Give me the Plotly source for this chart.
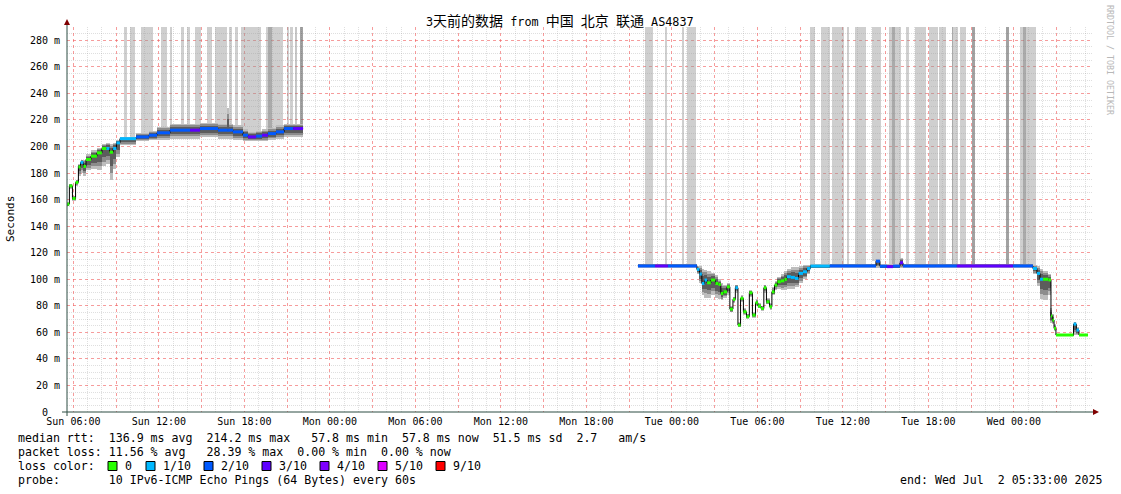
import plotly.graph_objects as go
import pandas as pd

YEAR = "2025-"
START = "06-29 05:33"
END = "07-02 05:33"

# ---------------- data ----------------
# segment 1 : step series (value holds from time[i] to time[i+1])
seg1_time = ["06-29 05:33", "06-29 05:43", "06-29 05:56", "06-29 06:09", "06-29 06:21",
             "06-29 06:30", "06-29 06:42", "06-29 06:53", "06-29 07:14", "06-29 07:39",
             "06-29 08:00", "06-29 08:19", "06-29 08:32", "06-29 08:47", "06-29 09:01",
             "06-29 09:16", "06-29 10:24", "06-29 11:18", "06-29 11:52", "06-29 12:47",
             "06-29 14:11", "06-29 14:53", "06-29 16:09", "06-29 16:47", "06-29 16:55",
             "06-29 17:12", "06-29 17:54", "06-29 18:15", "06-29 18:49", "06-29 19:14",
             "06-29 19:39", "06-29 20:13", "06-29 20:47", "06-29 21:25"]
seg1_end = "06-29 22:07"
seg1_median = [156.6, 170.3, 160.8, 172.9, 184.6, 188.0, 185.0, 190.2, 192.7, 195.2,
               198.5, 198.5, 195.7, 198.5, 202.7, 205.9, 207.2, 208.5, 210.3, 212.3,
               212.3, 213.5, 212.3, 212.3, 212.3, 211.0, 208.5, 207.2, 207.8, 208.5,
               209.7, 211.0, 213.5, 213.5]
seg1_loss = [0, 0, 0, 0, 0, 1, 0, 0, 0, 0,
             0, 1, 0, 1, 1, 1, 2, 2, 2, 2,
             3, 2, 2, 2, 2, 2, 2, 3, 2, 3,
             2, 2, 2, 3]
seg1_lo = [155, 168, 159, 170, 178, 180, 178, 182, 183, 182,
           185, 187, 175, 183, 192, 201, 204, 205, 205, 206,
           206, 207, 206, 206, 206, 205, 204, 204, 204, 204,
           205, 206, 207, 207]
seg1_hi = [158, 172, 163, 175, 187, 190, 190, 194, 197, 199,
           202, 203, 202, 203, 205, 207, 210, 212, 215, 217,
           217, 218, 217, 229, 217, 216, 213, 211, 212, 213,
           214, 216, 217, 217]

# segment 2
seg2_time = ["06-30 21:37", "06-30 22:49", "06-30 23:43", "07-01 01:45", "07-01 01:56",
             "07-01 02:06", "07-01 02:17", "07-01 02:28", "07-01 02:44", "07-01 03:03",
             "07-01 03:16", "07-01 03:26", "07-01 03:37", "07-01 03:52", "07-01 04:04",
             "07-01 04:17", "07-01 04:27", "07-01 04:38", "07-01 04:49", "07-01 05:01",
             "07-01 05:14", "07-01 05:26", "07-01 05:39", "07-01 05:52", "07-01 06:02",
             "07-01 06:15", "07-01 06:27", "07-01 06:38", "07-01 06:51", "07-01 07:01",
             "07-01 07:12", "07-01 07:24", "07-01 07:39", "07-01 07:54", "07-01 08:04",
             "07-01 08:21", "07-01 08:38", "07-01 08:53", "07-01 09:12", "07-01 09:29",
             "07-01 09:43", "07-01 11:05", "07-01 13:12", "07-01 14:19", "07-01 14:36",
             "07-01 15:05", "07-01 15:31", "07-01 16:00", "07-01 16:13", "07-01 18:28",
             "07-01 20:00", "07-01 23:56", "07-02 01:20", "07-02 01:37", "07-02 01:50",
             "07-02 02:02", "07-02 02:25", "07-02 02:36", "07-02 02:42", "07-02 02:49",
             "07-02 02:57", "07-02 04:11", "07-02 04:23", "07-02 04:34"]
seg2_end = "07-02 05:12"
seg2_median = [110.0, 110.0, 110.0, 107.4, 103.9, 96.8, 99.4, 97.3, 99.4, 96.8,
               96.1, 89.3, 90.5, 94.3, 77.5, 84.8, 93.6, 65.5, 85.6, 75.5,
               71.8, 89.8, 73.0, 82.3, 79.8, 78.0, 93.6, 83.0, 79.3, 90.5,
               95.6, 98.1, 98.8, 99.9, 101.9, 101.4, 100.6, 104.4, 105.6, 108.1,
               109.9, 110.0, 110.0, 113.6, 109.8, 109.5, 109.9, 112.4, 110.0, 110.0,
               110.0, 110.0, 108.1, 104.4, 100.0, 100.0, 99.5, 72.3, 69.2, 63.0,
               58.0, 66.2, 61.7, 58.0]
seg2_loss = [2, 3, 2, 1, 1, 1, 1, 0, 0, 0,
             0, 0, 0, 0, 0, 0, 1, 0, 0, 0,
             0, 0, 0, 0, 0, 0, 0, 0, 0, 0,
             0, 0, 0, 0, 1, 1, 1, 1, 1, 1,
             1, 2, 2, 2, 2, 3, 2, 3, 2, 2,
             3, 2, 1, 1, 1, 0, 0, 0, 0, 0,
             0, 1, 1, 0]
seg2_lo = [108.5, 108.5, 108.5, 104, 97, 88, 86, 86, 88, 86,
           85, 84, 86, 88, 75, 82, 90, 64, 83, 73,
           70, 87, 71, 80, 78, 76, 90, 81, 77, 88,
           92, 93, 92, 92, 93, 93, 94, 97, 100, 104,
           108.5, 108.5, 108.5, 108.5, 108.5, 108.5, 108.5, 108.5, 108.5, 108.5,
           108.5, 108.5, 104, 95, 85, 84, 88, 67, 66, 61,
           57, 58, 58, 57]
seg2_hi = [111.5, 111.5, 111.5, 110, 110, 108, 107, 106, 105, 103,
           100, 97, 96, 97, 80, 87, 96, 68, 88, 78,
           74, 92, 75, 85, 82, 80, 96, 86, 82, 94,
           99, 102, 104, 106, 108, 109, 109, 110, 111, 111,
           111.5, 111.5, 111.5, 115, 111.5, 111.5, 111.5, 116, 111.5, 111.5,
           111.5, 111.5, 111, 110, 108, 106, 104, 78, 74, 66,
           59, 68, 64, 59]

# tall grey bars (pings beyond the visible range), shade 0 light .. 2 dark
loss_bar_start = ["06-29 09:33", "06-29 09:58", "06-29 10:45", "06-29 12:09", "06-29 12:47",
                  "06-29 13:33", "06-29 13:57", "06-29 14:32", "06-29 15:23", "06-29 15:56",
                  "06-29 16:54", "06-29 17:20", "06-29 17:46", "06-29 19:31", "06-29 19:39",
                  "06-29 20:58", "06-29 21:12", "06-29 21:33", "06-29 21:54",
                  "06-30 22:06", "06-30 23:31", "07-01 00:43", "07-01 01:02", "07-01 09:41",
                  "07-01 10:27", "07-01 11:13", "07-01 12:16", "07-01 12:51", "07-01 14:02",
                  "07-01 15:14", "07-01 15:26", "07-01 16:25", "07-01 17:03", "07-01 18:02",
                  "07-01 18:46", "07-01 19:39", "07-01 19:39", "07-01 20:13", "07-01 21:03",
                  "07-01 23:26", "07-02 00:25", "07-02 00:38"]
loss_bar_end = ["06-29 09:46", "06-29 10:19", "06-29 11:35", "06-29 12:34", "06-29 12:54",
                "06-29 13:46", "06-29 14:11", "06-29 14:56", "06-29 15:42", "06-29 16:45",
                "06-29 17:06", "06-29 17:33", "06-29 19:10", "06-29 20:42", "06-29 19:55",
                "06-29 21:09", "06-29 21:26", "06-29 21:43", "06-29 22:05",
                "06-30 22:41", "06-30 23:38", "07-01 00:51", "07-01 01:40", "07-01 10:02",
                "07-01 11:05", "07-01 12:04", "07-01 12:27", "07-01 13:37", "07-01 14:39",
                "07-01 16:03", "07-01 15:39", "07-01 16:38", "07-01 17:50", "07-01 18:39",
                "07-01 19:14", "07-01 20:06", "07-01 19:45", "07-01 20:38", "07-01 21:16",
                "07-01 23:39", "07-02 01:35", "07-02 00:50"]
loss_bar_shade = [0, 0, 0, 0, 0, 0, 0, 0, 0, 0,
                  0, 0, 0, 0, 1, 0, 0, 1, 2,
                  0, 0, 0, 0, 0, 0, 0, 0, 0, 0,
                  0, 1, 0, 0, 0, 0, 0, 1, 0, 2,
                  2, 0, 1]

x_tick_labels = ["Sun 06:00", "", "Sun 12:00", "", "Sun 18:00", "", "Mon 00:00", "",
                 "Mon 06:00", "", "Mon 12:00", "", "Mon 18:00", "", "Tue 00:00", "",
                 "Tue 06:00", "", "Tue 12:00", "", "Tue 18:00", "", "Wed 00:00", ""]
y_tick_vals = [0, 20, 40, 60, 80, 100, 120, 140, 160, 180, 200, 220, 240, 260, 280]
y_tick_labels = ["0\u00a0\u00a0", "20 m", "40 m", "60 m", "80 m", "100 m", "120 m", "140 m",
                 "160 m", "180 m", "200 m", "220 m", "240 m", "260 m", "280 m"]

loss_colors = ["#26ff00", "#00b8ff", "#0059ff", "#5e00ff", "#7e00ff", "#dd00ff", "#ff0000"]
loss_labels = ["0", "1/10", "2/10", "3/10", "4/10", "5/10", "9/10"]

title_parts = [("3", False), ("天前的数据", True), (" from ", False), ("中国", True), (" ", False),
               ("北京", True), (" ", False), ("联通", True), (" AS4837", False)]
stat_lines = [
    "median rtt:  136.9 ms avg  214.2 ms max   57.8 ms min  57.8 ms now  51.5 ms sd  2.7   am/s",
    "packet loss: 11.56 % avg   28.39 % max  0.00 % min  0.00 % now",
    "loss color:",
    "probe:       10 IPv6-ICMP Echo Pings (64 Bytes) every 60s",
]
end_text = "end: Wed Jul  2 05:33:00 2025"

# ---------------- helpers ----------------
MONO = "DejaVu Sans Mono, Noto Sans CJK SC, monospace"
PL, PR, PT, PB = 67, 1093, 27, 412
W, H = 1121, 494


def T(s):
    return pd.Timestamp(YEAR + s)


def iso(t):
    return t.strftime("%Y-%m-%d %H:%M:%S")


def px_x(x):
    return (x - PL) / (PR - PL)


def px_y(y):
    return (PB - y) / (PB - PT)


def nb(s):
    return s.replace(" ", "\u00a0")


segments = []
for times, end, med, loss, lo, hi in [
    (seg1_time, seg1_end, seg1_median, seg1_loss, seg1_lo, seg1_hi),
    (seg2_time, seg2_end, seg2_median, seg2_loss, seg2_lo, seg2_hi),
]:
    t = [T(s) for s in times] + [T(end)]
    widths = [(b - a).total_seconds() * 1000 for a, b in zip(t[:-1], t[1:])]
    segments.append(dict(t=t, starts=[iso(a) for a in t[:-1]], w=widths,
                         med=med, loss=loss, lo=lo, hi=hi))


def median_at(tm):
    for s in segments:
        for i in range(len(s["med"])):
            if s["t"][i] <= tm < s["t"][i + 1]:
                return s["med"][i]
    return None


fig = go.Figure()

# tall grey bars
shade_colors = ["rgba(150,150,150,0.46)", "rgba(120,120,120,0.42)", "rgba(100,100,100,0.6)"]
for shade in range(3):
    xs, ws, bs, hs = [], [], [], []
    for a, b, sh in zip(loss_bar_start, loss_bar_end, loss_bar_shade):
        if sh != shade:
            continue
        ta, tb = T(a), T(b)
        base = median_at(ta + (tb - ta) / 2)
        xs.append(iso(ta))
        ws.append((tb - ta).total_seconds() * 1000)
        bs.append(base)
        hs.append(295 - base)
    fig.add_trace(go.Bar(x=xs, y=hs, base=bs, width=ws, offset=0,
                         marker=dict(color=shade_colors[shade], line=dict(width=0)),
                         hoverinfo="skip", showlegend=False))

# smoke
for frac, col in [(1.0, "#bdbdbd"), (0.75, "#8c8c8c"), (0.5, "#5c5c5c")]:
    for s in segments:
        los = [m - frac * (m - l) for m, l in zip(s["med"], s["lo"])]
        his = [m + frac * (h - m) for m, h in zip(s["med"], s["hi"])]
        fig.add_trace(go.Bar(x=s["starts"], y=[h - l for h, l in zip(his, los)], base=los,
                             width=s["w"], offset=0,
                             marker=dict(color=col, line=dict(width=0)),
                             hoverinfo="skip", showlegend=False))

# black median line
for s in segments:
    fig.add_trace(go.Scatter(x=[iso(a) for a in s["t"]], y=s["med"] + [s["med"][-1]],
                             mode="lines", line=dict(color="#000000", width=1, shape="hv"),
                             hoverinfo="skip", showlegend=False))

# loss coloured median blocks (thick horizontal strokes)
for ci, col in enumerate(loss_colors):
    xs, ys = [], []
    for s in segments:
        for i, c in enumerate(s["loss"]):
            if c != ci:
                continue
            xs += [iso(s["t"][i]), iso(s["t"][i + 1]), None]
            ys += [s["med"][i], s["med"][i], None]
    if xs:
        fig.add_trace(go.Scatter(x=xs, y=ys, mode="lines", line=dict(color=col, width=3),
                                 hoverinfo="skip", showlegend=False))

# grid positions: major every 3 h / 20 ms, minor every 1 h / 5 ms (not on majors)
x_major = pd.date_range(T("06-29 06:00"), T("07-02 03:00"), freq="3h")
x_tick_vals = [iso(t) for t in x_major]
x_minor_vals = [iso(t) for t in pd.date_range(T("06-29 06:00"), T("07-02 05:00"), freq="1h")
                if t.hour % 3 != 0]
y_minor_vals = [v for v in range(5, 290, 5) if v % 20 != 0]

MAJ = "rgba(240,90,90,0.6)"
MIN = "rgba(150,150,150,0.3)"

fig.update_layout(
    width=W, height=H,
    margin=dict(l=PL, r=W - PR, t=PT, b=H - PB, pad=0, autoexpand=False),
    paper_bgcolor="white", plot_bgcolor="white",
    barmode="overlay", bargap=0, showlegend=False,
    xaxis=dict(type="date", range=[iso(T(START)), iso(T(END))], automargin=False,
               tickvals=x_tick_vals, ticktext=x_tick_labels,
               showgrid=True, gridcolor=MAJ, griddash="dot", gridwidth=1,
               ticks="", ticklabelstandoff=2,
               tickfont=dict(family=MONO, size=10, color="#000000"),
               minor=dict(tickmode="array", tickvals=x_minor_vals, showgrid=True,
                          gridcolor=MIN, griddash="1px,1px", gridwidth=1),
               showline=False, zeroline=False, fixedrange=True),
    yaxis=dict(range=[0, 290], tickvals=y_tick_vals, ticktext=y_tick_labels, automargin=False,
               showgrid=True, gridcolor=MAJ, griddash="dot", gridwidth=1,
               ticks="", ticklabelstandoff=6,
               tickfont=dict(family=MONO, size=10, color="#000000"),
               minor=dict(tickmode="array", tickvals=y_minor_vals, showgrid=True, gridcolor=MIN,
                          griddash="1px,1px", gridwidth=1),
               showline=False, zeroline=False, fixedrange=True),
)

AXC = "#2c4d43"
ARC = "#7f0000"
shapes = [
    dict(type="line", xref="paper", yref="paper", x0=px_x(62), x1=px_x(1093),
         y0=0, y1=0, line=dict(color=AXC, width=1)),
    dict(type="line", xref="paper", yref="paper", x0=0, x1=0,
         y0=px_y(416), y1=px_y(24), line=dict(color=AXC, width=1)),
    dict(type="path", xref="paper", yref="paper",
         path=f"M {px_x(1093)} {px_y(409)} L {px_x(1099)} {px_y(412)} L {px_x(1093)} {px_y(415)} Z",
         fillcolor=ARC, line=dict(color=ARC, width=0)),
    dict(type="path", xref="paper", yref="paper",
         path=f"M {px_x(64)} {px_y(25)} L {px_x(67)} {px_y(19)} L {px_x(70)} {px_y(25)} Z",
         fillcolor=ARC, line=dict(color=ARC, width=0)),
]

title_html = "".join(
    (f"<span style='font-size:14px'>{txt}</span>" if cjk else nb(txt)) for txt, cjk in title_parts
)

annotations = [
    dict(text=title_html, xref="paper", yref="paper", x=px_x(560), y=px_y(21),
         xanchor="center", yanchor="middle", showarrow=False,
         font=dict(family=MONO, size=11.8, color="#000000")),
    dict(text="Seconds", xref="paper", yref="paper", x=px_x(10), y=px_y(219),
         xanchor="center", yanchor="middle", textangle=-90, showarrow=False,
         font=dict(family=MONO, size=11, color="#000000")),
    dict(text=nb("RRDTOOL / TOBI OETIKER"), xref="paper", yref="paper", x=px_x(1110), y=px_y(60),
         xanchor="center", yanchor="middle", textangle=90, showarrow=False,
         font=dict(family=MONO, size=8.3, color="#b8b8b8")),
]

line_y = [438, 452, 466, 480]
for txt, ly in zip(stat_lines, line_y):
    annotations.append(dict(text=nb(txt), xref="paper", yref="paper", x=px_x(16), y=px_y(ly),
                            xanchor="left", yanchor="middle", showarrow=False,
                            font=dict(family=MONO, size=11.6, color="#000000")))
annotations.append(dict(text=nb(end_text), xref="paper", yref="paper", x=px_x(1104), y=px_y(line_y[3]),
                        xanchor="right", yanchor="middle", showarrow=False,
                        font=dict(family=MONO, size=11.6, color="#000000")))

box_x = [108, 146, 204, 262, 320, 378, 436]
for bx, col, lab in zip(box_x, loss_colors, loss_labels):
    shapes.append(dict(type="rect", xref="paper", yref="paper",
                       x0=px_x(bx), x1=px_x(bx + 9), y0=px_y(line_y[2] + 4.5), y1=px_y(line_y[2] - 4.5),
                       fillcolor=col, line=dict(color="#000000", width=1)))
    annotations.append(dict(text=lab, xref="paper", yref="paper", x=px_x(bx + 15), y=px_y(line_y[2]),
                            xanchor="left", yanchor="middle", showarrow=False,
                            font=dict(family=MONO, size=11.6, color="#000000")))

fig.update_layout(shapes=shapes, annotations=annotations)
fig.write_html("out.html", config={"displayModeBar": False},
               post_script="document.body.style.margin='0px';")
